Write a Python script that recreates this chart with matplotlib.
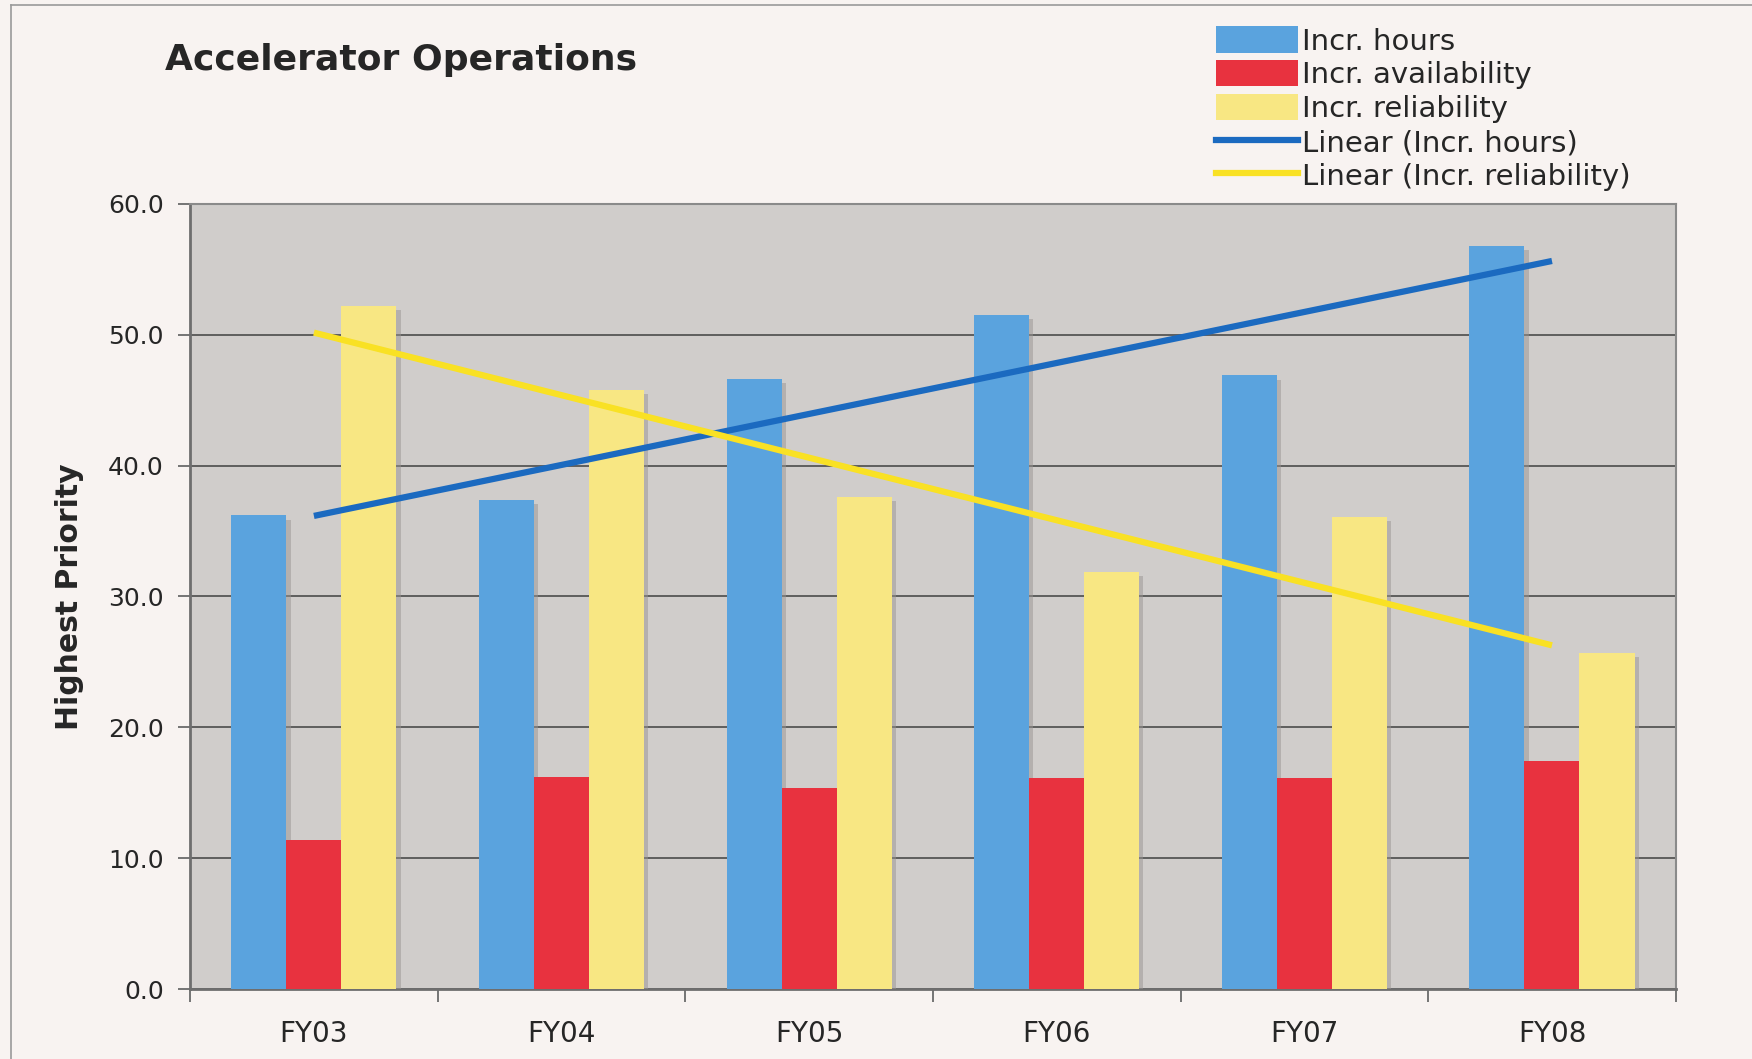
import numpy as np
import matplotlib
matplotlib.use("Agg")
import matplotlib.pyplot as plt
from matplotlib import patheffects as pe
from matplotlib.lines import Line2D
from matplotlib.patches import Patch

categories = ["FY03", "FY04", "FY05", "FY06", "FY07", "FY08"]
incr_hours = [36.2, 37.4, 46.6, 51.5, 46.9, 56.8]
incr_availability = [11.4, 16.2, 15.4, 16.1, 16.1, 17.4]
incr_reliability = [52.2, 45.8, 37.6, 31.9, 36.1, 25.7]
yticks = [0, 10, 20, 30, 40, 50, 60]

c_blue = "#5aa3de"
c_red = "#e8323f"
c_yellow = "#f8e783"
c_tblue = "#1b6ac0"
c_tyellow = "#f9e124"
fig_bg = "#f8f3f1"
ax_bg = "#d0cdcb"
txt = "#262626"

plt.rcParams['font.family'] = ['DejaVu Sans']

fig = plt.figure(figsize=(17.52, 10.59), dpi=100, facecolor=fig_bg)
ax = fig.add_axes([0.1085, 0.0661, 0.848, 0.7413], facecolor=ax_bg)

x = np.arange(len(categories))
w = 1 / 4.5
shadow = [pe.SimplePatchShadow(offset=(3, -3), shadow_rgbFace="#9a9592", alpha=0.5), pe.Normal()]
for off, vals, col in [(-w, incr_hours, c_blue), (0, incr_availability, c_red), (w, incr_reliability, c_yellow)]:
    bars = ax.bar(x + off, vals, width=w, color=col, zorder=3, linewidth=0)
    for b in bars:
        b.set_path_effects(shadow)

# linear trendlines (least squares, as Excel does)
xs = x + 1
ph = np.polyfit(xs, incr_hours, 1)
pr = np.polyfit(xs, incr_reliability, 1)
ax.plot([x[0], x[-1]], np.polyval(ph, [xs[0], xs[-1]]), color=c_tblue, lw=4.5, zorder=4, solid_capstyle='butt')
ax.plot([x[0], x[-1]], np.polyval(pr, [xs[0], xs[-1]]), color=c_tyellow, lw=4.5, zorder=4, solid_capstyle='butt')

ax.set_xlim(-0.5, len(categories) - 0.5)
ax.set_ylim(0, 60)
ax.set_yticks(yticks)
ax.set_yticklabels([f"{v:.1f}" for v in yticks], fontsize=18, color=txt)
ax.yaxis.grid(True, color="#5e5e5e", lw=1.4, zorder=1)
ax.set_axisbelow(True)

ax.set_xticks(x)
ax.set_xticklabels(categories, fontsize=20, color=txt,
                   family=['Liberation Sans Narrow', 'DejaVu Sans'])
ax.set_xticks(np.arange(-0.5, len(categories) + 0.5, 1), minor=True)
ax.tick_params(axis='x', which='major', length=0, pad=22)
ax.tick_params(axis='x', which='minor', length=9, width=1.3, color="#6a6a6a", direction='out')
ax.tick_params(axis='y', length=9, width=1.3, color="#6a6a6a", pad=10)

for s in ['left', 'bottom']:
    ax.spines[s].set_color("#6e6e6e")
    ax.spines[s].set_linewidth(2.0)
for s in ['top', 'right']:
    ax.spines[s].set_color("#8a8a8a")
    ax.spines[s].set_linewidth(1.5)

ax.set_ylabel("Highest Priority", fontsize=21.5, fontweight='bold', color=txt, labelpad=17)

fig.text(0.094, 0.943, "Accelerator Operations", fontsize=26, fontweight='bold', color=txt, va='center', ha='left')

handles = [
    Patch(facecolor=c_blue, label="Incr. hours"),
    Patch(facecolor=c_red, label="Incr. availability"),
    Patch(facecolor=c_yellow, label="Incr. reliability"),
    Line2D([0], [0], color=c_tblue, lw=4.5, label="Linear (Incr. hours)"),
    Line2D([0], [0], color=c_tyellow, lw=4.5, label="Linear (Incr. reliability)"),
]
leg = fig.legend(handles=handles, loc='upper left', bbox_to_anchor=(0.6875, 0.986), frameon=False,
                 fontsize=21, handlelength=2.8, handleheight=1.0, handletextpad=0.15, labelspacing=0.165,
                 borderaxespad=0)
for t in leg.get_texts():
    t.set_color(txt)

# outer frame lines
fig.add_artist(Line2D([0.006, 1.0], [0.995, 0.995], transform=fig.transFigure, color="#9a9a9a", lw=1.2))
fig.add_artist(Line2D([0.006, 0.006], [0.0, 0.995], transform=fig.transFigure, color="#9a9a9a", lw=1.2))

fig.savefig("out.png", dpi=100, facecolor=fig_bg)
